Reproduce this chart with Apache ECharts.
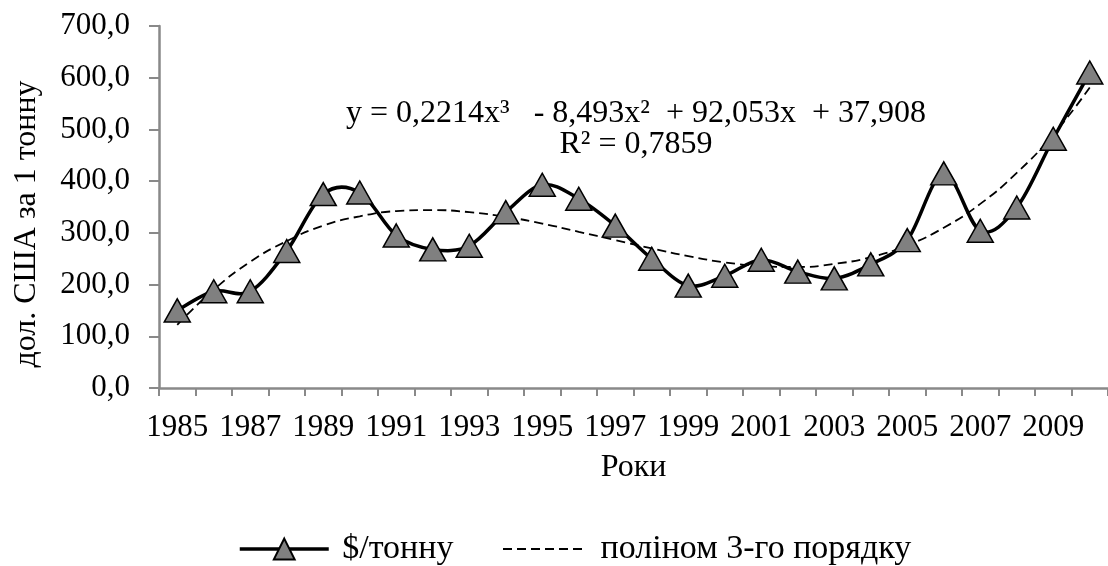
<!DOCTYPE html>
<html>
<head>
<meta charset="utf-8">
<script src="https://cdn.jsdelivr.net/npm/echarts@6/dist/echarts.min.js"></script>
<style>
html,body{margin:0;padding:0;background:#fff;}
#chart{width:1108px;height:566px;}
</style>
</head>
<body>
<div id="chart"></div>
<script>
var years = ['1985','1986','1987','1988','1989','1990','1991','1992','1993','1994','1995','1996','1997','1998','1999','2000','2001','2002','2003','2004','2005','2006','2007','2008','2009','2010'];
var pricePerTon = [150,187,187,265,375,378,295,268,275,340,393,366,314,250,198,217,248,225,212,239,286,415,304,349,482,610];
var polyTrend = [122,190,244,284,314,332,342,344,340,331,318,302,286,270,255,243,236,234,240,253,276,310,356,416,490,581];
var seriesNames = ['$/тонну','поліном 3-го порядку'];
var equationText = 'y = 0,2214x³   - 8,493x²  + 92,053x  + 37,908';
var r2Text = 'R² = 0,7859';
var yAxisName = 'дол. США за 1 тонну';
var xAxisName = 'Роки';

var FONT = '"Liberation Serif","Times New Roman",serif';
var chart = echarts.init(document.getElementById('chart'));

// Excel-style smoothed segment (Catmull-Rom, tension 1/6) between consecutive points
function renderSmoothSegment(params, api){
  var i = params.dataIndex;
  var n = pricePerTon.length;
  if (i >= n-1) return null;
  function pt(k){ k = Math.max(0, Math.min(n-1, k)); return api.coord([k, pricePerTon[k]]); }
  var p0 = pt(i-1), p1 = pt(i), p2 = pt(i+1), p3 = pt(i+2);
  return {
    type:'bezierCurve',
    shape:{
      x1:p1[0], y1:p1[1], x2:p2[0], y2:p2[1],
      cpx1:p1[0]+(p2[0]-p0[0])/6, cpy1:p1[1]+(p2[1]-p0[1])/6,
      cpx2:p2[0]-(p3[0]-p1[0])/6, cpy2:p2[1]-(p3[1]-p1[1])/6
    },
    style:{stroke:'#000', lineWidth:3.5, fill:null, lineCap:'round'}
  };
}

chart.setOption({
  backgroundColor:'#fff',
  animation:false,
  textStyle:{fontFamily:FONT,color:'#000'},
  grid:{left:159,right:-13,top:26,bottom:178,containLabel:false},
  xAxis:{
    type:'category',
    data:years,
    boundaryGap:true,
    name:xAxisName,
    nameLocation:'middle',
    nameGap:64,
    nameTextStyle:{fontFamily:FONT,fontSize:32,color:'#000'},
    axisLine:{lineStyle:{color:'#898989',width:2.5}},
    axisTick:{show:true,length:8,interval:0,lineStyle:{color:'#898989',width:2}},
    axisLabel:{interval:1,fontFamily:FONT,fontSize:31,color:'#000',margin:24},
    splitLine:{show:false}
  },
  yAxis:{
    type:'value',
    min:0,max:700,interval:100,
    name:yAxisName,
    nameLocation:'middle',
    nameGap:116,
    nameRotate:90,
    nameTextStyle:{fontFamily:FONT,fontSize:32,color:'#000',padding:[0,34,0,0]},
    axisLine:{show:true,lineStyle:{color:'#898989',width:2.5}},
    axisTick:{show:true,length:10,lineStyle:{color:'#898989',width:2}},
    axisLabel:{fontFamily:FONT,fontSize:31,color:'#000',margin:29,
      formatter:function(v){return v.toFixed(1).replace('.',',');}},
    splitLine:{show:false}
  },
  legend:[
    {
      left:233, top:527,
      itemWidth:89, itemHeight:26,
      textStyle:{fontFamily:FONT,fontSize:34,color:'#000'},
      formatter:function(n){return ' '+n;},
      data:[{name:seriesNames[0],lineStyle:{opacity:1,width:3.5,color:'#000'}}]
    },
    {
      left:497, top:527,
      itemWidth:84, itemHeight:26,
      textStyle:{fontFamily:FONT,fontSize:34,color:'#000'},
      formatter:function(n){return ' '+n;},
      data:[{name:seriesNames[1],itemStyle:{opacity:0}}]
    }
  ],
  series:[
    {
      name:seriesNames[0],
      type:'line',
      data:pricePerTon,
      symbol:'triangle',
      symbolSize:[26,23],
      lineStyle:{color:'#000',width:3.5,opacity:0},
      itemStyle:{color:'#808080',borderColor:'#000',borderWidth:1.5},
      z:4
    },
    {
      name:seriesNames[1],
      type:'line',
      data:polyTrend,
      smooth:true,
      symbol:'none',
      lineStyle:{color:'#000',width:1.8,type:[9,5]},
      itemStyle:{color:'#000'},
      z:2
    },
    {
      name:'smooth-curve',
      type:'custom',
      data:pricePerTon.map(function(v,i){return [i,v];}),
      encode:{x:0,y:1},
      renderItem:renderSmoothSegment,
      silent:true,
      z:3
    }
  ],
  graphic:[
    {type:'text',x:636,y:114,style:{text:equationText,font:'32px '+FONT,fill:'#000',textAlign:'center',textVerticalAlign:'middle'}},
    {type:'text',x:636,y:145,style:{text:r2Text,font:'32px '+FONT,fill:'#000',textAlign:'center',textVerticalAlign:'middle'}}
  ]
});
</script>
</body>
</html>
